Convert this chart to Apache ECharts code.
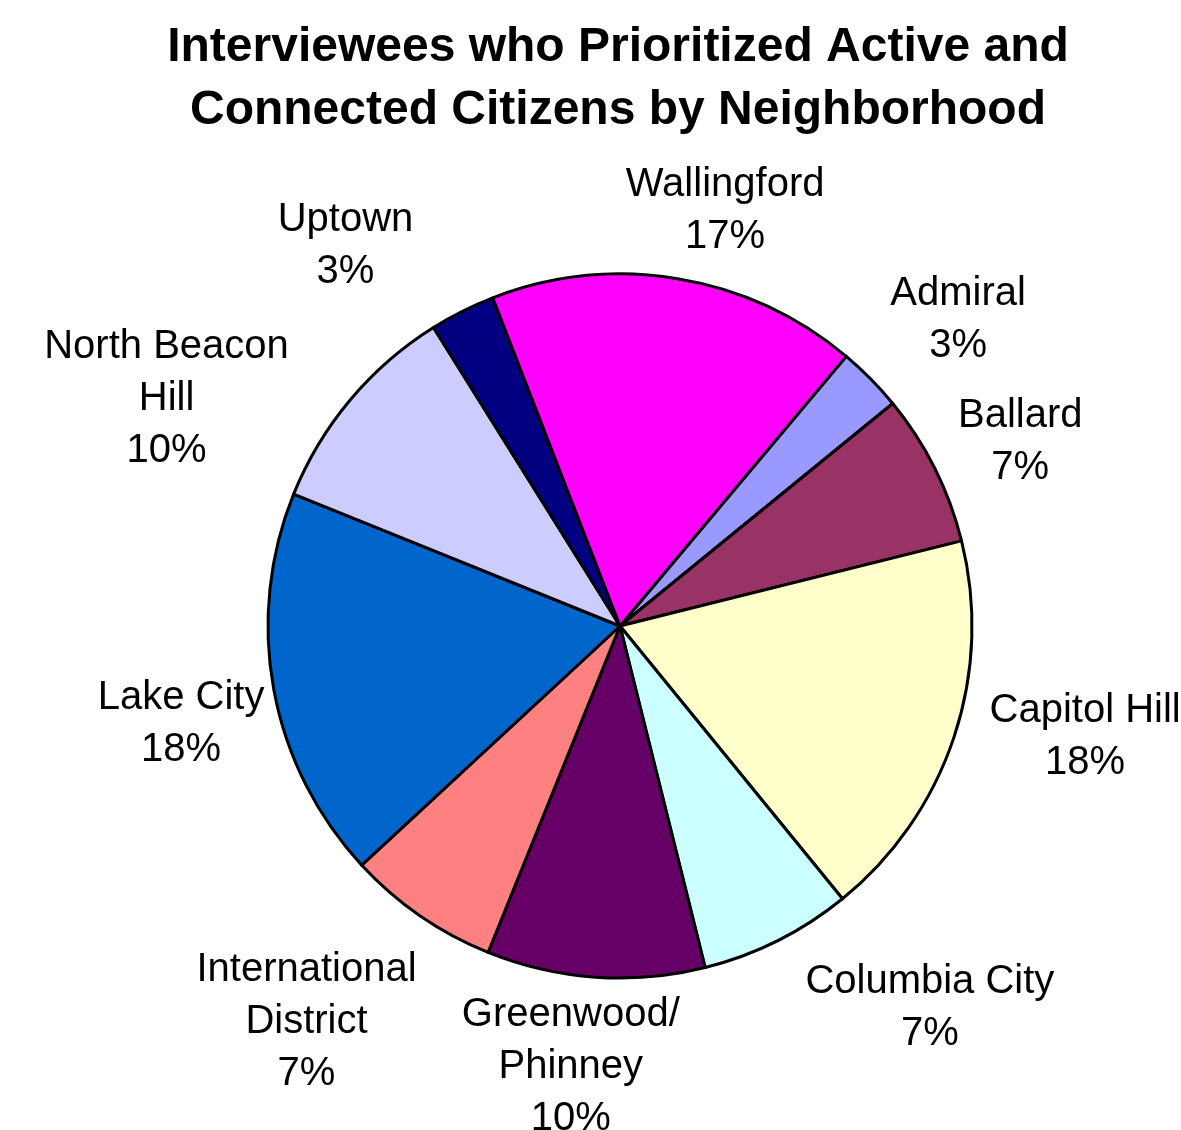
<!DOCTYPE html>
<html>
<head>
<meta charset="utf-8">
<script src="https://cdn.jsdelivr.net/npm/echarts@6/dist/echarts.min.js"></script>
<style>
  html, body { margin: 0; padding: 0; background: #ffffff; }
  #chart { width: 1181px; height: 1130px; }
</style>
</head>
<body>
<div id="chart"></div>
<script>
// Neighborhoods, clockwise from the first slice
const neighborhoods = [
  'Admiral', 'Ballard', 'Capitol Hill', 'Columbia City', 'Greenwood/ Phinney',
  'International District', 'Lake City', 'North Beacon Hill', 'Uptown', 'Wallingford'
];
// Label text as it is broken over lines
const labelNames = [
  'Admiral', 'Ballard', 'Capitol Hill', 'Columbia City', 'Greenwood/\nPhinney',
  'International\nDistrict', 'Lake City', 'North Beacon\nHill', 'Uptown', 'Wallingford'
];
// Share of interviewees (%)
const shares = [3, 7, 18, 7, 10, 7, 18, 10, 3, 17];
const sliceColors = [
  '#9999FF', '#993366', '#FFFFCC', '#CCFFFF', '#660066',
  '#FF8080', '#0066CC', '#CCCCFF', '#000080', '#FF00FF'
];

// Pie geometry
const PIE_CX = 620;
const PIE_CY = 626;
const PIE_R = 352;
const FIRST_ANGLE = 40;   // degrees clockwise from 12 o'clock
const LABEL_GAP = 10;
// Hand placement of the data labels, in pixels, relative to the automatic spot
const labelNudge = [
  [20, 8], [6, 13], [20, -37], [102, -33], [-18, -5],
  [-36, -6], [7, 16], [-66, 98], [-78, 12], [35, 9]
];

const total = shares.reduce((a, b) => a + b, 0);
const midAngles = [];
let acc = 0;
shares.forEach(v => {
  midAngles.push(FIRST_ANGLE + (acc + v / 2) / total * 360);
  acc += v;
});

const chart = echarts.init(document.getElementById('chart'), null, { renderer: 'canvas' });

chart.setOption({
  backgroundColor: '#ffffff',
  animation: false,
  title: {
    text: 'Interviewees who Prioritized Active and\nConnected Citizens by Neighborhood',
    left: 613,
    top: 11,
    textAlign: 'center',
    textStyle: {
      fontFamily: 'Liberation Sans, Arial, sans-serif',
      fontWeight: 'bold',
      fontSize: 48,
      lineHeight: 63,
      color: '#000000'
    }
  },
  series: [{
    type: 'pie',
    center: [PIE_CX, PIE_CY],
    radius: PIE_R,
    startAngle: 90 - FIRST_ANGLE,
    clockwise: true,
    avoidLabelOverlap: false,
    itemStyle: { borderColor: '#000000', borderWidth: 3 },
    label: {
      show: true,
      position: 'outside',
      fontFamily: 'Liberation Sans, Arial, sans-serif',
      fontSize: 40,
      lineHeight: 52,
      color: '#000000',
      formatter: p => labelNames[p.dataIndex] + '\n' + p.value + '%'
    },
    labelLine: { show: false },
    labelLayout: params => {
      const i = params.dataIndex;
      const a = midAngles[i] * Math.PI / 180;
      const ux = Math.sin(a);
      const uy = -Math.cos(a);
      const w = params.labelRect.width;
      const h = params.labelRect.height;
      const d = PIE_R + LABEL_GAP + Math.abs(ux) * w / 2 + Math.abs(uy) * h / 2;
      return {
        x: PIE_CX + ux * d + labelNudge[i][0],
        y: PIE_CY + uy * d + labelNudge[i][1],
        align: 'center',
        verticalAlign: 'middle'
      };
    },
    emphasis: { disabled: true },
    data: neighborhoods.map((name, i) => ({
      name: name,
      value: shares[i],
      itemStyle: { color: sliceColors[i] }
    }))
  }]
});
</script>
</body>
</html>
